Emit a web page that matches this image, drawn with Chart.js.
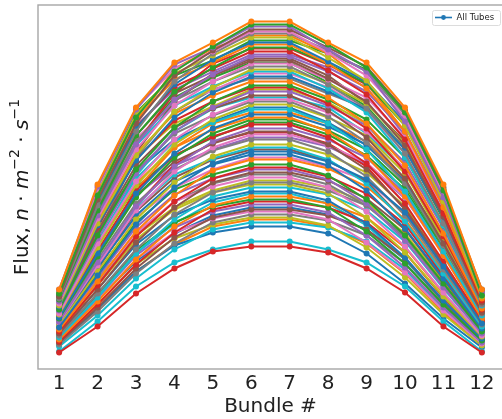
<!DOCTYPE html>
<html><head><meta charset="utf-8">
<script src="https://cdn.jsdelivr.net/npm/chart.js@4/dist/chart.umd.min.js"></script>
<style>html,body{margin:0;padding:0;background:#fff;overflow:hidden;width:502px;height:419px}canvas{display:block}</style>
</head><body><canvas id="c" width="506" height="419"></canvas>
<script>
const bundles = [1,2,3,4,5,6,7,8,9,10,11,12];
const tickLabels = ['1','2','3','4','5','6','7','8','9','10','11','12'];
const seriesLabel = 'All Tubes';
const xTitle = 'Bundle #';
const yTitleParts = ['Flux, ', 'n', ' \u00b7 ', 'm', '\u22122', ' \u00b7 ', 's', '\u22121'];

const fluxProfiles = [
  [66,118,169,206,230,242,242,232,214,181,127,70],
  [104,209,286,331,351,372,372,351,331,286,209,104],
  [100,198,276,322,347,369,369,349,326,281,203,98],
  [41,67,100,125,142,147,147,141,125,101,67,41],
  [104,207,284,329,346,367,367,344,322,272,196,101],
  [97,194,270,318,343,364,364,346,327,283,206,104],
  [103,205,285,325,342,362,362,341,318,276,199,99],
  [95,188,262,312,340,360,360,343,322,279,204,102],
  [101,201,279,320,338,356,356,336,313,268,192,97],
  [42,72,107,131,144,152,152,144,131,107,72,42],
  [98,190,265,309,334,351,351,332,312,271,197,100],
  [102,199,274,314,331,349,349,330,305,262,186,95],
  [94,183,258,302,326,346,346,330,310,268,194,99],
  [97,191,266,307,325,342,342,323,299,254,180,93],
  [92,178,249,294,319,337,337,322,302,262,190,97],
  [95,186,258,300,318,333,333,315,292,248,177,91],
  [90,175,244,288,312,330,330,314,296,256,185,95],
  [94,182,252,293,312,327,327,309,285,240,170,89],
  [88,170,238,282,306,324,324,310,290,250,180,93],
  [92,178,248,288,307,322,322,305,281,236,168,88],
  [87,168,233,276,301,317,317,302,284,244,176,91],
  [90,172,240,280,298,312,312,296,270,228,160,85],
  [84,158,224,266,292,308,308,294,274,236,168,89],
  [89,167,234,273,292,306,306,290,265,222,157,84],
  [83,155,220,262,286,302,302,288,268,231,165,87],
  [86,162,228,266,285,298,298,283,256,215,150,81],
  [80,150,212,254,279,294,294,281,262,225,160,85],
  [85,158,222,260,278,292,292,277,251,210,148,80],
  [79,146,208,249,274,289,289,276,258,220,156,84],
  [82,152,215,252,271,284,284,270,244,202,142,78],
  [76,140,200,240,265,279,279,267,249,212,150,81],
  [80,148,210,246,264,276,276,262,237,197,138,75],
  [75,137,196,236,260,274,274,263,244,208,147,80],
  [78,143,203,238,257,269,269,256,230,190,132,73],
  [72,131,187,227,252,265,265,254,236,200,141,77],
  [76,140,198,232,250,262,262,249,224,185,129,71],
  [71,128,183,222,246,259,259,248,231,196,138,75],
  [74,134,190,224,243,254,254,242,217,178,124,69],
  [68,122,174,211,237,249,249,239,221,187,131,72],
  [72,130,185,219,235,246,246,234,210,172,120,67],
  [70,126,178,212,229,239,239,228,203,165,115,65],
  [64,112,162,198,223,234,234,225,207,174,122,68],
  [67,120,171,204,219,229,229,218,194,158,110,62],
  [62,108,157,192,215,226,226,217,200,169,118,66],
  [65,116,166,199,215,224,224,214,190,153,106,60],
  [60,104,151,186,211,221,221,213,195,164,114,64],
  [63,112,160,192,207,216,216,206,182,147,101,58],
  [58,100,144,179,201,211,211,203,188,157,109,62],
  [61,108,154,184,201,209,209,200,176,141,97,57],
  [56,96,140,174,197,206,206,199,183,152,105,60],
  [59,104,149,178,194,202,202,193,170,136,93,55],
  [54,92,134,167,188,197,197,190,176,146,100,58],
  [57,100,143,171,187,194,194,186,162,130,89,53],
  [52,89,129,161,184,192,192,186,171,141,96,56],
  [55,96,138,166,182,189,189,181,158,126,86,51],
  [51,86,125,156,176,184,184,178,164,135,92,54],
  [54,93,134,161,175,182,182,174,151,121,83,50],
  [49,82,120,150,171,179,179,173,158,130,88,52],
  [52,89,129,155,169,176,176,168,146,116,79,48],
  [47,78,115,144,164,171,171,166,152,124,84,50],
  [50,85,122,148,161,167,167,160,140,110,75,46],
  [88,182,270,325,345,358,358,340,310,262,186,92],
  [100,202,281,318,333,353,353,340,324,280,200,103],
  [90,172,250,300,330,345,345,329,309,270,198,100],
  [99,197,268,304,322,339,339,326,306,258,175,88],
  [86,165,241,292,320,335,335,318,290,252,183,96],
  [95,186,255,290,303,320,320,306,283,240,168,86],
  [82,160,236,282,304,315,315,300,285,245,177,93],
  [91,172,236,270,287,304,304,291,270,222,152,80],
  [78,148,218,262,285,296,296,286,260,224,160,84],
  [88,162,222,254,272,286,286,271,248,212,152,82],
  [74,138,204,246,270,281,281,270,252,214,146,76],
  [83,150,206,238,256,271,271,259,238,204,145,80],
  [70,128,188,229,251,261,261,250,227,184,126,69],
  [78,142,198,228,244,256,256,247,229,195,140,77],
  [67,124,182,216,234,244,244,233,212,172,116,64],
  [72,128,176,206,224,236,236,227,213,180,128,71],
  [60,110,160,192,210,219,219,209,188,156,108,61],
  [66,115,158,186,203,213,213,206,191,160,112,64],
  [55,98,140,170,191,200,200,190,168,134,92,53],
  [56,94,132,160,178,186,186,179,164,134,92,55],
  [49,84,122,149,167,174,174,167,150,120,81,48],
  [93,180,251,296,316,331,331,311,287,245,174,90]
];

const palette = ['#1f77b4','#ff7f0e','#2ca02c','#d62728','#9467bd','#8c564b','#e377c2','#7f7f7f','#bcbd22','#17becf'];

const datasets = fluxProfiles.map((vals, i) => ({
  label: i === 0 ? seriesLabel : '_tube' + i,
  data: bundles.map((b, j) => ({x: b, y: vals[j]})),
  borderColor: palette[i % 10],
  backgroundColor: palette[i % 10],
  borderWidth: 2,
  pointRadius: 3,
  pointBorderWidth: 0,
  pointHoverRadius: 3,
  tension: 0,
  fill: false
}));

const decor = {
  id: 'decor',
  afterDraw(chart) {
    const ctx = chart.ctx, a = chart.chartArea;
    ctx.save();
    ctx.strokeStyle = '#a6a6a6';
    ctx.lineWidth = 1.4;
    ctx.strokeRect(a.left, a.top, a.right - a.left, a.bottom - a.top);
    const lx = 432, ly = 10, lw = 68, lh = 15;
    ctx.fillStyle = 'rgba(255,255,255,0.85)';
    ctx.strokeStyle = '#dcdcdc';
    ctx.lineWidth = 1;
    ctx.beginPath();
    if (ctx.roundRect) ctx.roundRect(lx + 0.5, ly + 0.5, lw, lh, 2); else ctx.rect(lx + 0.5, ly + 0.5, lw, lh);
    ctx.fill(); ctx.stroke();
    ctx.strokeStyle = palette[0];
    ctx.lineWidth = 1.6;
    ctx.beginPath(); ctx.moveTo(435, 17.5); ctx.lineTo(452, 17.5); ctx.stroke();
    ctx.fillStyle = palette[0];
    ctx.beginPath(); ctx.arc(443.5, 17.5, 2.4, 0, Math.PI * 2); ctx.fill();
    ctx.fillStyle = '#222';
    ctx.font = '8.5px "DejaVu Sans"';
    ctx.textBaseline = 'middle';
    ctx.textAlign = 'left';
    ctx.fillText(seriesLabel, 456.5, 18);
    const base = '20px "DejaVu Sans"', ital = 'italic 20px "DejaVu Sans"', sup = '14px "DejaVu Sans"';
    const styles = [base, ital, base, ital, sup, base, ital, sup];
    const dys = [0, 0, 0, 0, -9, 0, 0, -9];
    let total = 0;
    const widths = yTitleParts.map((t, k) => { ctx.font = styles[k]; const w = ctx.measureText(t).width; total += w; return w; });
    ctx.translate(28, (a.top + a.bottom) / 2);
    ctx.rotate(-Math.PI / 2);
    ctx.textBaseline = 'alphabetic';
    ctx.fillStyle = '#1a1a1a';
    let x = -total / 2;
    yTitleParts.forEach((t, k) => { ctx.font = styles[k]; ctx.fillText(t, x, dys[k]); x += widths[k]; });
    ctx.restore();
  }
};

new Chart(document.getElementById('c'), {
  type: 'line',
  data: {datasets},
  options: {
    responsive: false,
    animation: false,
    devicePixelRatio: 1,
    events: [],
    layout: {padding: {top: 5, right: 2, bottom: 0, left: 0}},
    plugins: {legend: {display: false}, tooltip: {enabled: false}},
    scales: {
      x: {
        type: 'linear', min: 0.45, max: 12.55,
        afterBuildTicks: s => { s.ticks = bundles.map(v => ({value: v})); },
        afterFit: s => { s.height = 50; },
        ticks: {
          callback: v => tickLabels[bundles.indexOf(v)],
          font: {family: 'DejaVu Sans', size: 20}, color: '#222',
          padding: 3, maxRotation: 0, autoSkip: false
        },
        grid: {display: false, drawTicks: false},
        border: {display: false},
        title: {display: true, text: xTitle, font: {family: 'DejaVu Sans', size: 20}, color: '#222', padding: {top: 0, bottom: 0}}
      },
      y: {
        min: 24.45, max: 388.55,
        afterFit: s => { s.width = 38; },
        ticks: {display: false},
        grid: {display: false, drawTicks: false},
        border: {display: false}
      }
    }
  },
  plugins: [decor]
});
</script>
</body></html>
